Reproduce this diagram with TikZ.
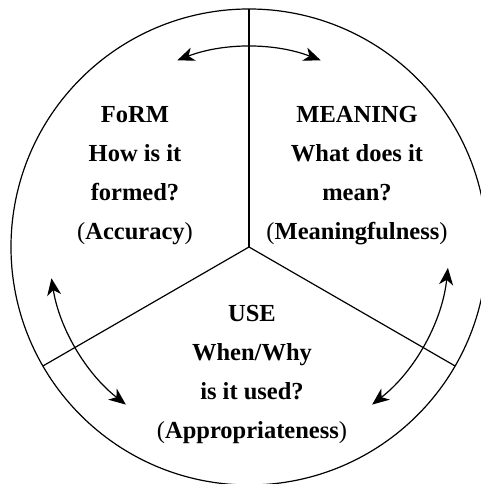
\documentclass[tikz,border=0pt]{standalone}
\usepackage{fontspec}
\setmainfont{Liberation Serif}
\usepackage{tikz}
\usetikzlibrary{arrows.meta}
\tikzset{
    part/.style={align=center, font=\bfseries\fontsize{24.5}{39}\selectfont},
    swap/.style={{Stealth[length=17pt,width=14pt,inset=5pt]}-{Stealth[length=17pt,width=14pt,inset=5pt]}, line width=1.2pt}
}
\newcommand{\paren}[1]{\textmd{(}#1\textmd{)}}

\begin{document}
\begin{tikzpicture}[x=1pt, y=1pt, line width=1.2pt]
                        \useasboundingbox (-249, -237) rectangle (232, 247);
                        \clip (-249, -237) rectangle (232, 247);

                        \coordinate (mid) at (0, 0);
                        \draw (mid) circle[radius=238];
                        \draw (mid) -- (90:238);
                        \draw (mid) -- (210:238);
                        \draw (mid) -- (330:238);

                        \node[part] (form) at (-114, 71) {FoRM\\How is it\\formed?\\\paren{Accuracy}};
                        \node[part] (meaning) at (108, 71) {MEANING\\What does it\\mean?\\\paren{Meaningfulness}};
                        \node[part] (use) at (3, -127) {USE\\When/Why\\is it used?\\\paren{Appropriateness}};

                        \coordinate (topend) at (111:200);
                        \coordinate (leftend) at (189:200);
                        \coordinate (rightend) at (308:200);
                        \draw[swap] (topend) arc[start angle=111, end angle=69, radius=200];
                        \draw[swap] (leftend) arc[start angle=189, end angle=232, radius=200];
                        \draw[swap] (rightend) arc[start angle=308, end angle=354, radius=200];
                    \end{tikzpicture}
\end{document}
